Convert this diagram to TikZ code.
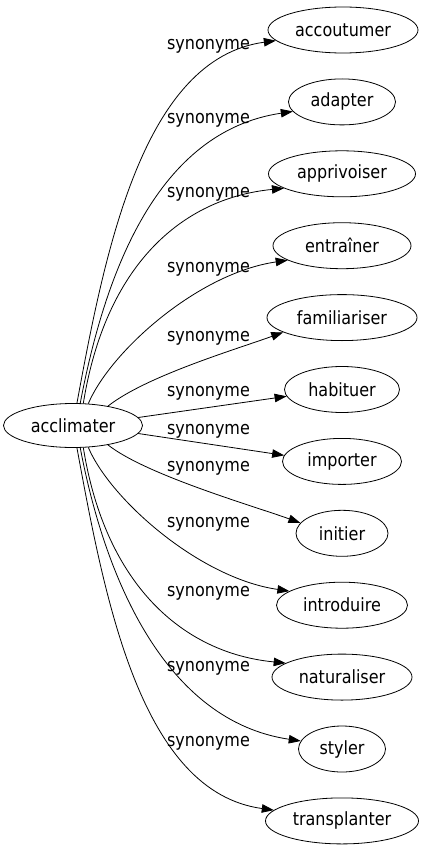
\documentclass[tikz,border=0pt]{standalone}
\usepackage{fontspec}
\setmainfont{DejaVu Sans}[FakeStretch=0.88]
\usetikzlibrary{arrows.meta,shapes.geometric}
\begin{document}
\begin{tikzpicture}[x=1pt,y=-1pt,font=\fontsize{18.2pt}{22pt}\selectfont]
\tikzset{
  word/.style={ellipse, draw, line width=0.8pt, inner sep=0pt, minimum height=46pt},
  lab/.style={inner sep=0pt},
  synedge/.style={draw, line width=0.8pt, -{Triangle[length=12pt,width=8.5pt]}}
}
\useasboundingbox (0,0) rectangle (423,851);
\node[word, minimum width=139pt, minimum height=44pt] (acc) at (73,425.5) {acclimater};
\node[word, minimum width=150pt] (n1) at (343,30) {accoutumer};
\node[word, minimum width=107pt] (n2) at (342,101.9) {adapter};
\node[word, minimum width=147pt] (n3) at (342,173.8) {apprivoiser};
\node[word, minimum width=138pt] (n4) at (342,245.7) {entraîner};
\node[word, minimum width=150pt] (n5) at (342,317.6) {familiariser};
\node[word, minimum width=115pt] (n6) at (342,389.5) {habituer};
\node[word, minimum width=119pt] (n7) at (342,461.4) {importer};
\node[word, minimum width=92pt] (n8) at (342,533.3) {initier};
\node[word, minimum width=131pt] (n9) at (342,605.2) {introduire};
\node[word, minimum width=140pt] (n10) at (342,677.1) {naturaliser};
\node[word, minimum width=87pt] (n11) at (342,749) {styler};
\node[word, minimum width=153pt] (n12) at (342,820.9) {transplanter};

\draw[synedge] (acc.80) .. controls +(28,-152) and +(-133,18) .. (n1.189);
\draw[synedge] (acc.72) .. controls +(25,-132) and +(-135,20) .. (n2.191);
\draw[synedge] (acc.65) .. controls +(22,-137) and +(-103,10) .. (n3.194);
\draw[synedge] (acc.55) .. controls +(22,-52) and +(-90,13) .. (n4.195);
\draw[synedge] (acc.29) .. controls +(38,-30) and +(-47,17) .. (n5.194);
\draw[synedge] (acc.7) -- (n6.187);
\draw[synedge] (acc.353) -- (n7.174);
\draw[synedge] (acc.331) .. controls +(38,30) and +(-47,-17) .. (n8.166);
\draw[synedge] (acc.305) .. controls +(22,52) and +(-90,-13) .. (n9.165);
\draw[synedge] (acc.295) .. controls +(22,137) and +(-103,-10) .. (n10.166);
\draw[synedge] (acc.288) .. controls +(25,132) and +(-135,-20) .. (n11.169);
\draw[synedge] (acc.280) .. controls +(28,152) and +(-133,-18) .. (n12.171);

\node[lab] (l1) at (208.5,46.5) {synonyme};
\node[lab] (l2) at (208.5,120.5) {synonyme};
\node[lab] (l3) at (208.5,194.5) {synonyme};
\node[lab] (l4) at (208.5,269) {synonyme};
\node[lab] (l5) at (208.5,338) {synonyme};
\node[lab] (l6) at (208.5,393) {synonyme};
\node[lab] (l7) at (208.5,431) {synonyme};
\node[lab] (l8) at (208.5,468) {synonyme};
\node[lab] (l9) at (208.5,524) {synonyme};
\node[lab] (l10) at (208.5,593) {synonyme};
\node[lab] (l11) at (208.5,668) {synonyme};
\node[lab] (l12) at (208.5,743) {synonyme};
\end{tikzpicture}
\end{document}
